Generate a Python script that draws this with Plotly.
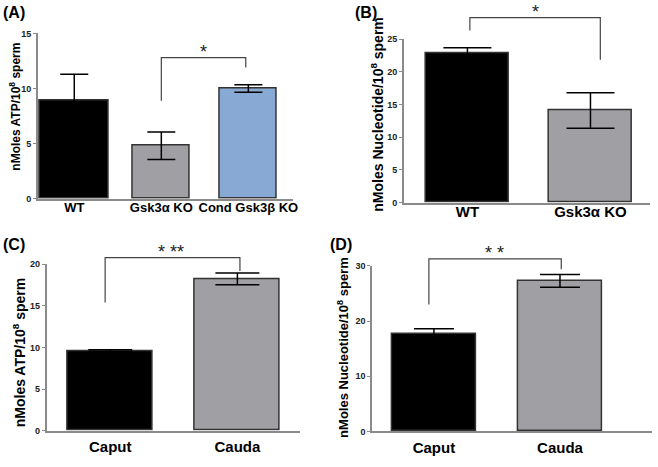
import plotly.graph_objects as go

# ---- data ----
cats_a = ['WT', 'Gsk3α KO', 'Cond Gsk3β KO']
atp_a = [8.9, 4.8, 10.0]
err_a = [2.4, 1.25, 0.35]

cats_b = ['WT', 'Gsk3α KO']
nuc_b = [22.9, 14.1]
err_b = [0.8, 2.7]

cats_c = ['Caput', 'Cauda']
atp_c = [9.6, 18.25]
err_c = [0.12, 0.7]

cats_d = ['Caput', 'Cauda']
nuc_d = [17.6, 27.3]
err_d = [1.0, 1.15]

W, H = 658, 467
BLACK = '#000000'
GREY = '#a09fa4'
BLUE = '#88a9d3'
AXIS = '#8a8a8a'
FONT = 'Liberation Sans, Arial, sans-serif'


def px_x(a, b):
    return [a / W, b / W]


def px_y(bottom, top):
    return [1 - bottom / H, 1 - top / H]


# panel geometry (pixels of the 658x467 canvas)
panels = [
    dict(n='', cats=cats_a, vals=atp_a, errs=err_a, colors=[BLACK, GREY, BLUE],
         widths=[0.8, 0.66, 0.66], cap=14, catsize=13, standoff=-4,
         xdom=px_x(38, 295), ydom=px_y(198, 29), xr=[-0.42, 2.51], yr=[0, 15],
         ticks=[0, 5, 10, 15]),
    dict(n='2', cats=cats_b, vals=nuc_b, errs=err_b, colors=[BLACK, GREY],
         widths=[0.68, 0.68], cap=24, catsize=15, standoff=-5,
         xdom=px_x(407, 655), ydom=px_y(202, 35), xr=[-0.516, 1.484], yr=[0, 25],
         ticks=[0, 5, 10, 15, 20, 25]),
    dict(n='3', cats=cats_c, vals=atp_c, errs=err_c, colors=[BLACK, GREY],
         widths=[0.67, 0.67], cap=22, catsize=15, standoff=2,
         xdom=px_x(47, 302), ydom=px_y(435, 265), xr=[-0.5, 1.49], yr=[0, 20],
         ticks=[0, 5, 10, 15, 20]),
    dict(n='4', cats=cats_d, vals=nuc_d, errs=err_d, colors=[BLACK, GREY],
         widths=[0.67, 0.67], cap=20, catsize=15, standoff=2,
         xdom=px_x(375, 657), ydom=px_y(435.7, 266.7), xr=[-0.49, 1.73], yr=[0, 30],
         ticks=[0, 10, 20, 30]),
]

fig = go.Figure()
layout = dict(width=W, height=H, margin=dict(l=0, r=0, t=0, b=0),
              paper_bgcolor='white', plot_bgcolor='white', showlegend=False,
              bargap=0, font=dict(family=FONT))

for p in panels:
    fig.add_trace(go.Bar(
        x=p['cats'], y=p['vals'], width=p['widths'],
        marker=dict(color=p['colors'], line=dict(color='#333333', width=1.5)),
        error_y=dict(type='data', array=p['errs'], color='#000000',
                     thickness=1.5, width=p['cap']),
        xaxis='x' + p['n'], yaxis='y' + p['n']))
    layout['xaxis' + p['n']] = dict(
        domain=p['xdom'], range=p['xr'], anchor='y' + p['n'], showline=True,
        linecolor=AXIS, linewidth=1.5, ticks='', showgrid=False, zeroline=False,
        tickangle=0, ticklabelstandoff=p['standoff'],
        tickfont=dict(family=FONT, size=p['catsize'], color='black', weight='bold'))
    layout['yaxis' + p['n']] = dict(
        domain=p['ydom'], range=p['yr'], anchor='x' + p['n'], showline=True,
        linecolor=AXIS, linewidth=1.5, ticks='outside', ticklen=3, tickcolor=AXIS,
        tickvals=p['ticks'], showgrid=False, zeroline=False,
        tickfont=dict(family=FONT, size=9, color='#222222', weight='bold'))


def to_paper(p, xv, yv):
    xr, yr, xd, yd = p['xr'], p['yr'], p['xdom'], p['ydom']
    px = xd[0] + (xv - xr[0]) / (xr[1] - xr[0]) * (xd[1] - xd[0])
    py = yd[0] + (yv - yr[0]) / (yr[1] - yr[0]) * (yd[1] - yd[0])
    return px, py


shapes = []
annotations = []


def bracket(p, x0, x1, top, end0, end1, label, star_x):
    pts = [to_paper(p, x0, end0), to_paper(p, x0, top),
           to_paper(p, x1, top), to_paper(p, x1, end1)]
    path = 'M ' + ' L '.join('%f,%f' % pt for pt in pts)
    shapes.append(dict(type='path', xref='paper', yref='paper', path=path,
                       line=dict(color='#444444', width=1.2)))
    sx, sy = to_paper(p, star_x, top)
    annotations.append(dict(x=sx, y=sy, xref='paper', yref='paper', text=label,
                            showarrow=False, xanchor='center', yanchor='bottom',
                            yshift=-6, font=dict(family=FONT, size=18, color='#222222')))


bracket(panels[0], 1.0, 1.97, 12.8, 8.9, 11.9, '*', 1.48)
bracket(panels[1], 0.02, 1.08, 28.3, 26.35, 21.86, '*', 0.55)
bracket(panels[2], -0.04, 1.02, 20.8, 15.4, 19.2, '* **', 0.48)
bracket(panels[3], -0.04, 1.01, 31.3, 23.0, 29.4, '* *', 0.48)

# y-axis titles (text, x px, y px, font size)
ytitles = [
    ('nMoles ATP/10<sup>8</sup> sperm', 15, 104, 12),
    ('nMoles Nucleotide/10<sup>8</sup> sperm', 380, 112, 14),
    ('nMoles ATP/10<sup>8</sup> sperm', 20, 355, 14),
    ('nMoles Nucleotide/10<sup>8</sup> sperm', 345, 350, 13),
]
for txt, x, y, s in ytitles:
    annotations.append(dict(x=x / W, y=1 - y / H, xref='paper', yref='paper',
                            text=txt, textangle=-90, showarrow=False,
                            xanchor='center', yanchor='middle',
                            font=dict(family=FONT, size=s, color='black', weight='bold')))

# panel letters
for txt, x, y in [('(A)', 14, 8), ('(B)', 369, 8), ('(C)', 14, 245), ('(D)', 344, 245)]:
    annotations.append(dict(x=x / W, y=1 - y / H, xref='paper', yref='paper',
                            text=txt, showarrow=False, xanchor='center', yanchor='middle',
                            font=dict(family=FONT, size=16, color='black', weight='bold')))

layout['shapes'] = shapes
layout['annotations'] = annotations
fig.update_layout(**layout)
# drop the default 8px page margin so the figure sits at the window's corner
fig.write_html('out.html', config={'displayModeBar': False},
               post_script="document.body.style.margin='0';")
